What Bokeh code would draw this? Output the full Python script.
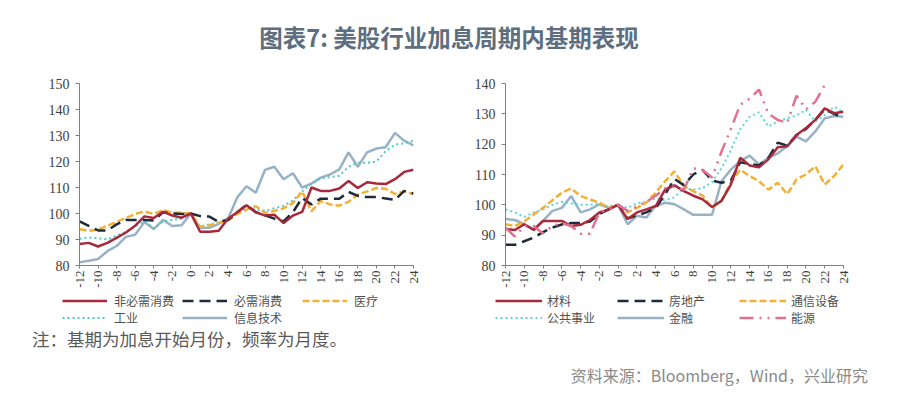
import math
from bokeh.plotting import figure
from bokeh.models import Range1d, Legend, LegendItem, Div, FixedTicker
from bokeh.layouts import column, row
from bokeh.embed import file_html
from bokeh.resources import INLINE

months = list(range(-12, 25))
x_ticks = list(range(-12, 25, 2))
x_tick_labels = ["-12", "-10", "-8", "-6", "-4", "-2", "0", "2", "4", "6", "8", "10",
                 "12", "14", "16", "18", "20", "22", "24"]

# ---- left panel data ----
left_names = ["非必需消费", "必需消费", "医疗", "工业", "信息技术"]
cons_disc = [88.3, 88.7, 87.3, 88.7, 90.6, 92.7, 95.3, 98.9, 98.3, 100.7, 99.2, 98.4, 100,
             93.0, 93.0, 93.4, 98.0, 100.5, 103.2, 100.5, 99.2, 99.5, 96.3, 99.2, 100.6,
             110.0, 108.7, 108.7, 109.6, 112.5, 109.8, 112.0, 111.5, 111.3, 113.2, 116.0, 116.8]
cons_stap = [97.0, 95.2, 93.5, 93.5, 95.8, 97.5, 97.5, 97.5, 97.3, 100.5, 100.0, 99.8, 100,
             99.0, 98.8, 96.8, 97.5, 100.5, 103.3, 100.5, 99.3, 98.0, 97.0, 100.5, 106.0,
             103.5, 105.7, 105.7, 105.7, 108.3, 106.8, 106.3, 106.3, 105.8, 105.2, 108.7, 107.7]
health = [94.0, 93.3, 93.8, 95.3, 96.8, 98.3, 99.8, 100.8, 99.8, 101.3, 100.3, 100.3, 100,
          95.0, 95.5, 96.5, 97.3, 99.8, 101.5, 102.8, 100.3, 101.0, 102.0, 104.0, 108.5,
          100.8, 104.8, 103.5, 103.0, 104.5, 107.3, 108.5, 109.8, 109.5, 107.5, 108.5, 107.5]
industry = [90.3, 90.8, 90.5, 90.0, 91.5, 93.0, 95.0, 97.0, 94.3, 97.0, 97.5, 98.0, 100,
            95.0, 95.8, 96.5, 97.5, 100.0, 102.0, 101.5, 101.0, 102.0, 103.0, 105.0, 108.5,
            111.5, 113.5, 114.0, 114.5, 118.0, 119.5, 119.5, 120.0, 124.0, 126.5, 127.0, 128.0]
infotech = [81.2, 81.8, 82.5, 85.5, 87.5, 91.0, 91.8, 96.7, 94.0, 97.5, 95.2, 95.5, 100,
            94.4, 94.5, 96.0, 98.0, 106.2, 110.5, 108.0, 116.8, 118.0, 113.2, 115.5, 110.0,
            111.5, 113.8, 115.0, 117.0, 123.5, 118.0, 123.5, 125.0, 125.5, 131.0, 128.0, 126.2]

# ---- right panel data ----
right_names = ["材料", "房地产", "通信设备", "公共事业", "金融", "能源"]
materials = [92.0, 91.7, 93.6, 91.7, 94.7, 94.7, 94.7, 93.0, 93.4, 95.0, 97.5, 98.5, 100,
             95.3, 97.5, 98.5, 99.6, 105.0, 106.4, 104.5, 103.0, 101.8, 99.3, 101.3, 106.7,
             115.5, 113.0, 112.4, 115.0, 119.0, 119.3, 123.0, 125.3, 128.0, 131.8, 130.2, 130.7]
real_estate = [86.8, 86.8, 88.0, 89.2, 91.0, 92.5, 93.5, 94.0, 94.0, 94.5, 97.0, 98.5, 100,
               95.5, 96.5, 97.5, 99.0, 103.5, 108.5, 106.5, 110.0, 111.5, 108.0, 107.3, 108.0,
               114.0, 113.5, 113.0, 115.5, 120.5, 119.5, 123.0, 125.0, 128.0, 131.5, 130.0, 128.5]
telecom = [93.6, 93.0, 94.5, 96.8, 99.0, 101.5, 104.0, 105.4, 102.9, 101.8, 100.7, 99.0, 100,
           97.5, 99.0, 100.7, 104.0, 107.8, 111.0, 106.2, 104.5, 103.0, 99.0, 101.3, 107.3,
           111.6, 109.5, 107.8, 105.0, 107.3, 103.5, 108.4, 110.0, 112.7, 106.7, 109.5, 113.3]
utilities = [98.5, 97.5, 96.0, 97.5, 98.5, 100.0, 101.0, 100.5, 100.0, 100.0, 100.5, 99.5, 100,
             99.0, 100.5, 101.0, 102.0, 101.5, 102.5, 105.5, 105.0, 105.5, 107.5, 112.0, 118.0,
             125.0, 129.0, 130.5, 125.8, 127.5, 128.5, 129.5, 131.3, 127.5, 129.6, 132.4, 130.5]
financials = [95.3, 95.0, 93.6, 92.0, 94.7, 98.0, 99.0, 102.9, 97.5, 98.5, 100.2, 99.0, 100,
              93.6, 96.4, 95.8, 99.6, 100.7, 100.2, 98.5, 96.7, 96.7, 96.7, 107.8, 111.6,
              114.4, 116.2, 113.3, 115.5, 117.0, 119.3, 122.5, 120.9, 124.2, 128.5, 129.3, 129.0]
energy = [92.5, 89.5, 93.0, 93.0, 90.5, 93.0, 94.0, 93.0, 90.5, 90.5, 97.5, 98.5, 100,
          98.0, 99.5, 101.0, 103.0, 105.5, 106.0, 105.0, 112.0, 111.5, 109.0, 117.5, 125.0,
          133.0, 135.0, 138.0, 130.0, 128.0, 127.0, 136.0, 131.5, 134.0, 139.5, 142.0, 143.0]

RED = "#a8283c"
NAVY = "#1f2b3a"
ORANGE = "#f2b034"
TEAL = "#4ec9c4"
CYAN = "#5fd4d8"
STEEL = "#97b2c7"
PINK = "#e0728f"

TICK_FONT = "Liberation Serif"
CJK = "Noto Sans CJK SC"

left_series = [cons_disc, cons_stap, health, industry, infotech]
right_series = [materials, real_estate, telecom, utilities, financials, energy]

left_styles = [
    dict(line_color=RED, line_width=2.5, line_dash="solid"),
    dict(line_color=NAVY, line_width=2.5, line_dash="11 6"),
    dict(line_color=ORANGE, line_width=2.5, line_dash="7 3"),
    dict(line_color=TEAL, line_width=2, line_dash="2 3"),
    dict(line_color=STEEL, line_width=2.5, line_dash="solid"),
]
right_styles = [
    dict(line_color=RED, line_width=2.5, line_dash="solid"),
    dict(line_color=NAVY, line_width=2.5, line_dash="11 6"),
    dict(line_color=ORANGE, line_width=2.5, line_dash="7 3"),
    dict(line_color=CYAN, line_width=2, line_dash="2 3"),
    dict(line_color=STEEL, line_width=2.5, line_dash="solid"),
    dict(line_color=PINK, line_width=2.5, line_dash="14 6 2 6 2 6"),
]


def make_fig(width, height, border, y_lo, y_hi, y_ticks):
    p = figure(width=width, height=height, output_backend="svg", toolbar_location=None,
               x_range=Range1d(-12, 24), y_range=Range1d(y_lo, y_hi),
               min_border_left=border[0], min_border_top=border[1],
               min_border_right=border[2], min_border_bottom=border[3])
    p.outline_line_color = None
    p.grid.visible = False
    p.background_fill_color = "white"
    p.border_fill_color = "white"
    for ax in (p.xaxis[0], p.yaxis[0]):
        ax.axis_line_color = "#808080"
        ax.axis_line_width = 1
        ax.major_tick_line_color = "#808080"
        ax.major_tick_in = 0
        ax.minor_tick_line_color = None
        ax.major_label_text_font = TICK_FONT
        ax.major_label_text_color = "#404040"
    p.yaxis.major_tick_out = 4
    p.xaxis.major_tick_out = 3
    p.yaxis.major_label_text_font_size = "14px"
    p.xaxis.major_label_text_font_size = "13px"
    p.xaxis.ticker = FixedTicker(ticks=x_ticks)
    p.xaxis.major_label_overrides = {t: s for t, s in zip(x_ticks, x_tick_labels)}
    p.yaxis.ticker = FixedTicker(ticks=y_ticks)
    p.xaxis.major_label_orientation = math.pi / 2
    p.xaxis.major_label_standoff = 2
    p.yaxis.major_label_standoff = 6
    return p


def make_legend(items, loc, glyph_w, label_w, standoff):
    return Legend(items=items, location=loc, orientation="horizontal", ncols=3,
                  glyph_width=glyph_w, glyph_height=15, label_height=15,
                  label_width=label_w, label_standoff=standoff, spacing=0,
                  padding=0, margin=0, click_policy="none",
                  label_text_font=CJK, label_text_font_size="12px",
                  label_text_color="#505050",
                  background_fill_alpha=0, border_line_alpha=0)


# left chart
p1 = make_fig(450, 220, (79, 13, 37, 23), 80, 150, list(range(80, 151, 10)))
for i in [4, 3, 2, 1, 0]:
    p1.line(months, left_series[i], **left_styles[i])

# right chart
p2 = make_fig(448, 220, (55, 12, 55, 25), 80, 140, list(range(80, 141, 10)))
for i in [4, 3, 2, 1, 0, 5]:
    p2.line(months, right_series[i], **right_styles[i])

# legend strip: hidden copies of the series provide the legend samples
lg = figure(width=898, height=40, output_backend="svg", toolbar_location=None,
            x_range=Range1d(-12, 24), y_range=Range1d(80, 150),
            min_border=0, x_axis_type=None, y_axis_type=None)
lg.outline_line_color = None
lg.grid.visible = False
lg.background_fill_alpha = 0
lg.border_fill_alpha = 0
l_items = []
for i, name in enumerate(left_names):
    r = lg.line(months, left_series[i], visible=False, **left_styles[i])
    l_items.append(LegendItem(label=name, renderers=[r]))
r_items = []
for i, name in enumerate(right_names):
    r = lg.line(months, right_series[i], visible=False, **right_styles[i])
    r_items.append(LegendItem(label=name, renderers=[r]))
lg.add_layout(make_legend(l_items, (62, 4), 45, 68, 7), "center")
lg.add_layout(make_legend(r_items, (495, 4), 47, 70, 5), "center")

title = Div(text='<div style="width:898px;text-align:center;font-family:\'Noto Sans CJK SC\';'
                 'font-size:23.5px;font-weight:bold;color:#5d6e80;line-height:30px;padding-top:22px;'
                 'white-space:nowrap;">'
                 '图表7: 美股行业加息周期内基期表现</div>',
            width=898, height=70, margin=0)
note = Div(text='<div style="padding-left:32px;font-family:\'Noto Sans CJK SC\';font-size:17.5px;'
                'color:#5a5a5a;line-height:18px;white-space:nowrap;">'
                '注：基期为加息开始月份，频率为月度。</div>',
           width=898, height=24, margin=0)
source = Div(text='<div style="width:868px;text-align:right;font-family:\'Noto Sans CJK SC\';'
                  'font-size:16px;color:#8a8a8a;line-height:20px;padding-top:11px;white-space:nowrap;">'
                  '资料来源：Bloomberg，Wind，兴业研究</div>',
             width=898, height=40, margin=0)

layout = column(title, row(p1, p2, spacing=0), lg, note, source, spacing=0)

open("out.html", "w").write(file_html(layout, INLINE))
